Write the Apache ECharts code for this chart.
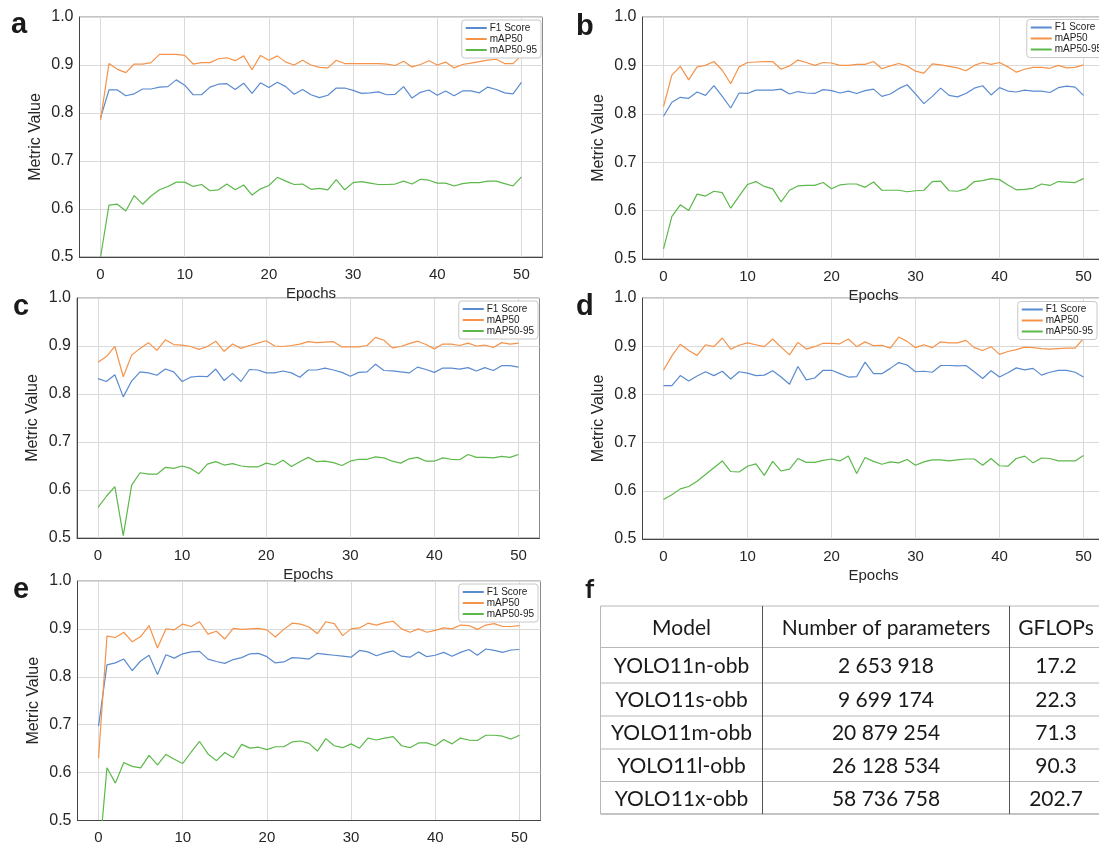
<!DOCTYPE html>
<html>
<head>
<meta charset="utf-8">
<script src="https://cdn.jsdelivr.net/npm/echarts@6/dist/echarts.min.js"></script>
<style>
  html, body { margin: 0; padding: 0; background: #fff; }
  #chart { width: 1099px; height: 850px; }
</style>
</head>
<body>
<div id="chart"></div>
<script>
// ---- data ----
const epochs = [0,1,2,3,4,5,6,7,8,9,10,11,12,13,14,15,16,17,18,19,20,21,22,23,24,25,26,27,28,29,30,
  31,32,33,34,35,36,37,38,39,40,41,42,43,44,45,46,47,48,49,50];
const xTicks = [0, 10, 20, 30, 40, 50];
const seriesNames = ['F1 Score', 'mAP50', 'mAP50-95'];

// a
const f1A = [0.790,0.848,0.848,0.836,0.840,0.850,0.850,0.854,0.855,0.869,0.858,0.838,0.838,0.854,0.860,0.861,0.849,0.862,0.841,0.863,0.853,0.864,0.855,0.839,0.849,0.838,0.832,0.837,0.852,0.852,0.847,0.841,0.842,0.844,0.838,0.839,0.855,0.831,0.843,0.848,0.837,0.846,0.836,0.846,0.846,0.842,0.854,0.849,0.842,0.840,0.864];
const mapA = [0.785,0.903,0.891,0.884,0.902,0.902,0.905,0.922,0.922,0.922,0.920,0.902,0.905,0.905,0.913,0.915,0.909,0.919,0.890,0.920,0.910,0.919,0.906,0.900,0.910,0.900,0.895,0.894,0.910,0.903,0.903,0.903,0.903,0.903,0.902,0.899,0.908,0.896,0.901,0.909,0.900,0.906,0.894,0.901,0.904,0.907,0.910,0.912,0.903,0.903,0.920];
const map95A = [0.500,0.608,0.610,0.596,0.628,0.610,0.627,0.640,0.647,0.656,0.656,0.647,0.651,0.638,0.640,0.652,0.640,0.650,0.629,0.642,0.649,0.666,0.658,0.651,0.652,0.641,0.643,0.640,0.661,0.640,0.655,0.657,0.654,0.651,0.651,0.652,0.658,0.652,0.662,0.660,0.654,0.654,0.648,0.653,0.655,0.655,0.658,0.658,0.653,0.648,0.667];

// b
const f1B = [0.795,0.824,0.834,0.832,0.845,0.838,0.858,0.836,0.812,0.843,0.842,0.849,0.849,0.849,0.851,0.841,0.846,0.843,0.842,0.850,0.848,0.843,0.847,0.842,0.848,0.851,0.836,0.841,0.852,0.860,0.841,0.821,0.836,0.853,0.838,0.835,0.842,0.853,0.858,0.839,0.854,0.847,0.845,0.849,0.847,0.847,0.844,0.854,0.857,0.855,0.838];
const mapB = [0.815,0.880,0.898,0.870,0.897,0.900,0.908,0.890,0.862,0.897,0.906,0.907,0.908,0.908,0.892,0.899,0.911,0.906,0.900,0.906,0.905,0.900,0.900,0.902,0.902,0.908,0.893,0.899,0.904,0.899,0.888,0.884,0.903,0.901,0.898,0.895,0.889,0.900,0.906,0.902,0.906,0.897,0.886,0.892,0.896,0.896,0.894,0.900,0.895,0.896,0.901];
const map95B = [0.521,0.588,0.612,0.600,0.634,0.630,0.640,0.637,0.605,0.630,0.654,0.660,0.650,0.645,0.618,0.642,0.651,0.652,0.652,0.658,0.645,0.653,0.655,0.655,0.648,0.659,0.642,0.642,0.642,0.639,0.641,0.642,0.660,0.661,0.641,0.640,0.645,0.660,0.662,0.666,0.664,0.653,0.643,0.644,0.646,0.655,0.652,0.660,0.659,0.658,0.666];

// c
const f1C = [0.832,0.826,0.840,0.794,0.827,0.846,0.844,0.839,0.852,0.846,0.826,0.835,0.837,0.836,0.852,0.828,0.843,0.826,0.851,0.850,0.844,0.844,0.848,0.844,0.835,0.850,0.850,0.854,0.850,0.845,0.837,0.845,0.846,0.862,0.849,0.848,0.846,0.844,0.856,0.851,0.845,0.854,0.854,0.852,0.855,0.848,0.855,0.849,0.859,0.859,0.856];
const mapC = [0.866,0.878,0.899,0.836,0.881,0.895,0.907,0.891,0.913,0.903,0.902,0.899,0.893,0.899,0.910,0.889,0.904,0.895,0.901,0.906,0.911,0.900,0.899,0.901,0.904,0.909,0.907,0.908,0.909,0.898,0.898,0.898,0.901,0.918,0.912,0.896,0.899,0.905,0.910,0.903,0.894,0.904,0.904,0.901,0.906,0.900,0.902,0.897,0.907,0.904,0.906];
const map95C = [0.564,0.587,0.607,0.505,0.610,0.636,0.633,0.633,0.647,0.645,0.650,0.645,0.634,0.654,0.659,0.652,0.655,0.650,0.648,0.648,0.656,0.652,0.662,0.649,0.659,0.668,0.659,0.660,0.657,0.651,0.660,0.664,0.664,0.669,0.667,0.660,0.656,0.665,0.668,0.660,0.660,0.667,0.664,0.663,0.674,0.668,0.668,0.667,0.670,0.668,0.674];

// d
const f1D = [0.818,0.818,0.839,0.828,0.838,0.847,0.839,0.848,0.832,0.847,0.844,0.839,0.840,0.849,0.836,0.821,0.858,0.830,0.834,0.850,0.850,0.843,0.836,0.837,0.867,0.843,0.843,0.854,0.866,0.861,0.847,0.848,0.846,0.860,0.860,0.859,0.860,0.847,0.833,0.849,0.836,0.845,0.855,0.851,0.854,0.840,0.846,0.850,0.850,0.846,0.836];
const mapD = [0.850,0.880,0.904,0.891,0.881,0.903,0.899,0.917,0.894,0.902,0.907,0.903,0.899,0.915,0.898,0.882,0.908,0.894,0.899,0.906,0.906,0.905,0.915,0.899,0.909,0.901,0.902,0.896,0.919,0.910,0.897,0.903,0.897,0.909,0.907,0.907,0.912,0.897,0.891,0.899,0.883,0.889,0.893,0.898,0.897,0.895,0.894,0.895,0.896,0.896,0.916];
const map95D = [0.582,0.592,0.604,0.609,0.620,0.634,0.648,0.662,0.640,0.639,0.651,0.656,0.632,0.661,0.641,0.645,0.667,0.659,0.659,0.663,0.666,0.662,0.672,0.636,0.669,0.661,0.655,0.660,0.658,0.665,0.653,0.660,0.664,0.664,0.662,0.664,0.666,0.666,0.653,0.667,0.652,0.651,0.667,0.672,0.658,0.668,0.667,0.662,0.662,0.662,0.673];

// e
const f1E = [0.697,0.825,0.829,0.837,0.813,0.833,0.845,0.805,0.846,0.839,0.848,0.852,0.853,0.837,0.832,0.828,0.836,0.840,0.848,0.849,0.842,0.829,0.831,0.840,0.839,0.837,0.849,0.847,0.845,0.843,0.841,0.855,0.852,0.844,0.850,0.854,0.843,0.841,0.852,0.842,0.845,0.851,0.843,0.851,0.857,0.845,0.858,0.855,0.851,0.856,0.857];
const mapE = [0.630,0.885,0.882,0.893,0.873,0.884,0.907,0.860,0.900,0.898,0.910,0.905,0.915,0.889,0.895,0.879,0.901,0.899,0.900,0.901,0.898,0.883,0.899,0.912,0.910,0.904,0.890,0.915,0.911,0.886,0.900,0.902,0.912,0.908,0.913,0.916,0.900,0.893,0.900,0.893,0.897,0.902,0.900,0.908,0.907,0.899,0.908,0.911,0.905,0.905,0.907];
const map95E = [0.410,0.610,0.578,0.621,0.613,0.610,0.636,0.616,0.638,0.628,0.619,0.643,0.665,0.639,0.625,0.642,0.631,0.659,0.651,0.653,0.648,0.654,0.654,0.664,0.666,0.661,0.645,0.671,0.656,0.652,0.660,0.651,0.672,0.668,0.672,0.675,0.656,0.652,0.662,0.662,0.656,0.669,0.660,0.672,0.668,0.667,0.678,0.678,0.676,0.670,0.678];

// f (table)
const tableHeader = ['Model', 'Number of parameters', 'GFLOPs'];
const models = ['YOLO11n-obb', 'YOLO11s-obb', 'YOLO11m-obb', 'YOLO11l-obb', 'YOLO11x-obb'];
const paramCounts = ['2 653 918', '9 699 174', '20 879 254', '26 128 534', '58 736 758'];
const gflops = ['17.2', '22.3', '71.3', '90.3', '202.7'];

// ---- layout ----
const FONT = '"Liberation Sans", Arial, sans-serif';
const TABLE_FONT = 'Lato, "Open Sans", sans-serif';
const colors = ['#5b8bcf', '#f5934a', '#5cb84a'];

const panels = [
  { letter: 'a', lx: 11, ly: 39, grid: { left: 79.5, top: 17, width: 463, height: 240 }, legend: { right: 558, top: 20 }, data: [f1A, mapA, map95A] },
  { letter: 'b', lx: 576, ly: 41, grid: { left: 642.5, top: 17, width: 462, height: 242 }, legend: { right: -7, top: 19.5 }, data: [f1B, mapB, map95B] },
  { letter: 'c', lx: 13, ly: 321, grid: { left: 77, top: 298, width: 462.5, height: 240 }, legend: { right: 561, top: 301 }, data: [f1C, mapC, map95C] },
  { letter: 'd', lx: 576, ly: 321, grid: { left: 642.5, top: 298, width: 462, height: 241 }, legend: { right: 2, top: 301.5 }, data: [f1D, mapD, map95D] },
  { letter: 'e', lx: 13, ly: 604, grid: { left: 77.5, top: 581, width: 463, height: 239.5 }, legend: { right: 561, top: 584 }, data: [f1E, mapE, map95E] }
];

const tableCols = [600.5, 762.5, 1009.5, 1101];
const tableRows = [606, 647.5, 683, 716, 749, 781.5, 814];

const grids = [], xAxes = [], yAxes = [], legends = [], series = [], graphics = [];

panels.forEach((p, i) => {
  grids.push(Object.assign({
    show: true, borderColor: '#8a8a8a', borderWidth: 1,
    containLabel: false, outerBoundsMode: 'none'
  }, p.grid));

  xAxes.push({
    gridIndex: i, type: 'value', min: -2.5, max: 52.5,
    name: 'Epochs', nameLocation: 'middle', nameGap: 29,
    nameTextStyle: { fontSize: 15, color: '#262626', fontFamily: FONT },
    axisLine: { onZero: false, lineStyle: { color: '#444', width: 1 } },
    axisTick: { show: false, customValues: xTicks },
    axisLabel: { customValues: xTicks, fontSize: 15, color: '#262626', margin: 10, fontFamily: FONT },
    splitLine: { show: true, lineStyle: { color: '#dadada', width: 1 } }
  });

  yAxes.push({
    gridIndex: i, type: 'value', min: 0.5, max: 1.0, interval: 0.1,
    name: 'Metric Value', nameLocation: 'middle', nameGap: 36,
    nameTextStyle: { fontSize: 16, color: '#262626', fontFamily: FONT },
    axisLine: { show: true, onZero: false, lineStyle: { color: '#444', width: 1 } },
    axisTick: { show: false },
    axisLabel: { fontSize: 16, color: '#262626', margin: 6, fontFamily: FONT, formatter: v => v.toFixed(1) },
    splitLine: { show: true, lineStyle: { color: '#dadada', width: 1 } }
  });

  legends.push({
    data: seriesNames, orient: 'vertical',
    right: p.legend.right, top: p.legend.top,
    icon: 'rect', itemWidth: 21, itemHeight: 2, itemGap: 1,
    padding: [3, 4, 3, 4],
    backgroundColor: '#fff', borderColor: '#c8c8c8', borderWidth: 1, borderRadius: 3,
    selectedMode: false,
    textStyle: { fontSize: 10, lineHeight: 10, color: '#222', fontFamily: FONT, padding: [0, 0, 0, -2] }
  });

  seriesNames.forEach((name, k) => {
    series.push({
      name: name, type: 'line', xAxisIndex: i, yAxisIndex: i,
      data: epochs.map((e, j) => [e, p.data[k][j]]),
      showSymbol: false, symbol: 'none', clip: true,
      color: colors[k],
      lineStyle: { color: colors[k], width: 1.2 }
    });
  });

  graphics.push({
    type: 'text', x: p.lx, y: p.ly,
    style: { text: p.letter, fontSize: 29, fontWeight: 'bold', fontFamily: FONT, fill: '#1a1a1a', verticalAlign: 'bottom' }
  });
});

// panel f letter
graphics.push({
  type: 'text', x: 585, y: 603,
  style: { text: 'f', fontSize: 26, fontWeight: 'bold', fontFamily: TABLE_FONT, fill: '#1a1a1a', verticalAlign: 'bottom' }
});

// table lines
tableRows.forEach((y, r) => {
  graphics.push({
    type: 'line', shape: { x1: tableCols[0], y1: y, x2: tableCols[3], y2: y },
    style: { stroke: r === tableRows.length - 1 ? '#888' : '#b8b8b8', lineWidth: 1 }
  });
});
tableCols.forEach((x, c) => {
  graphics.push({
    type: 'line', shape: { x1: x, y1: tableRows[0], x2: x, y2: tableRows[tableRows.length - 1] },
    style: { stroke: c === 0 ? '#b8b8b8' : '#555', lineWidth: 1 }
  });
});

// table text
const tableBody = models.map((m, r) => [m, paramCounts[r], gflops[r]]);
[tableHeader].concat(tableBody).forEach((row, r) => {
  row.forEach((txt, c) => {
    const cx = c === 2 ? 1056 : (tableCols[c] + tableCols[c + 1]) / 2;
    graphics.push({
      type: 'text',
      x: cx,
      y: (tableRows[r] + tableRows[r + 1]) / 2 + 1,
      style: { text: txt, fontSize: 21, fontFamily: TABLE_FONT, fill: '#1a1a1a', align: 'center', verticalAlign: 'middle' }
    });
  });
});

const chart = echarts.init(document.getElementById('chart'), null, { renderer: 'canvas' });
chart.setOption({
  animation: false,
  backgroundColor: '#fff',
  textStyle: { fontFamily: FONT },
  grid: grids,
  xAxis: xAxes,
  yAxis: yAxes,
  legend: legends,
  series: series,
  graphic: graphics
});
</script>
</body>
</html>
